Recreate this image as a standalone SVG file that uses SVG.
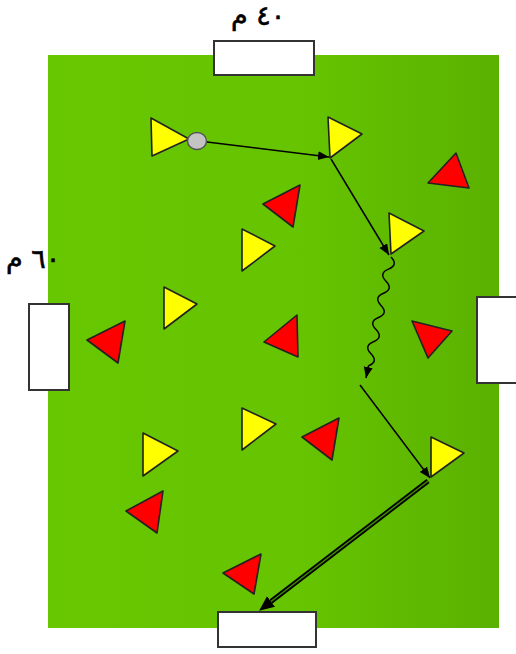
<svg xmlns="http://www.w3.org/2000/svg" width="516" height="654" viewBox="0 0 516 654">
<defs>
<linearGradient id="grass" x1="0" y1="0" x2="1" y2="0">
<stop offset="0" stop-color="#67c700"/>
<stop offset="0.55" stop-color="#66c400"/>
<stop offset="1" stop-color="#5ab100"/>
</linearGradient>
<marker id="arr" markerUnits="userSpaceOnUse" markerWidth="12" markerHeight="10" refX="11" refY="4.5" orient="auto">
<path d="M0,0 L11,4.5 L0,9 z" fill="#000"/>
</marker>
<marker id="arrBig" markerUnits="userSpaceOnUse" markerWidth="16" markerHeight="14" refX="0" refY="6.5" orient="auto">
<path d="M0,0 L15,6.5 L0,13 z" fill="#000"/>
</marker>
</defs>
<style>
.goal{fill:#fff;stroke:#333;stroke-width:2}
.y{fill:#ffff00;stroke:#222;stroke-width:1.6;stroke-linejoin:round}
.r{fill:#ff0000;stroke:#222;stroke-width:1.6;stroke-linejoin:round}
.ln{fill:none;stroke:#000;stroke-width:1.5}
.lbl{font-family:"DejaVu Sans",sans-serif;font-size:27px;fill:#000;stroke:#000;stroke-width:0.6}
</style>
<rect x="0" y="0" width="516" height="654" fill="#fff"/>
<g id="field"><rect x="48" y="55" width="451" height="573" fill="url(#grass)"/></g>
<g id="goal-top"><rect class="goal" x="214" y="41" width="100" height="34"/></g>
<g id="goal-left"><rect class="goal" x="29" y="304" width="40" height="86"/></g>
<g id="goal-right"><rect class="goal" x="477" y="297" width="45" height="86"/></g>
<g id="goal-bottom"><rect class="goal" x="218" y="612" width="98" height="35"/></g>
<g id="label-40"><text class="lbl" x="231" y="25">٤٠ م</text></g>
<g id="label-60"><text class="lbl" x="6" y="268">٦٠ م</text></g>
<g id="y1"><polygon class="y" points="151,118 152,156 189,139"/></g>
<g id="y2"><polygon class="y" points="328,117 330,158 362,134"/></g>
<g id="y3"><polygon class="y" points="389,213 391,254 424,231"/></g>
<g id="y4"><polygon class="y" points="242,229 242,271 275,246"/></g>
<g id="y5"><polygon class="y" points="164,287 164,329 197,304"/></g>
<g id="y6"><polygon class="y" points="143,433 143,476 178,451"/></g>
<g id="y7"><polygon class="y" points="242,408 242,450 276,424"/></g>
<g id="y8"><polygon class="y" points="431,437 431,477 464,453"/></g>
<g id="r1"><polygon class="r" points="456,153 469,188 428,183"/></g>
<g id="r2"><polygon class="r" points="300,185 293,227 263,204"/></g>
<g id="r3"><polygon class="r" points="297,315 298,357 264,342"/></g>
<g id="r4"><polygon class="r" points="125,321 118,363 87,340"/></g>
<g id="r5"><polygon class="r" points="412,321 452,331 428,358"/></g>
<g id="r6"><polygon class="r" points="339,418 332,460 302,437"/></g>
<g id="r7"><polygon class="r" points="163,491 157,533 126,511"/></g>
<g id="r8"><polygon class="r" points="261,554 254,594 223,573"/></g>
<g id="ball"><ellipse cx="197" cy="141" rx="9.5" ry="8.5" fill="#c4c4c4" stroke="#555" stroke-width="1.5"/></g>
<g id="connectors">
<line class="ln" x1="207" y1="142" x2="329" y2="157" marker-end="url(#arr)"/>
<line class="ln" x1="331" y1="159" x2="389" y2="255" marker-end="url(#arr)"/>
<path class="ln" d="M391,257 Q398.6,264.9 388.5,269.1 T386,281.2 T383.5,293.3 T381,305.4 T378.5,317.5 T376,329.6 T373.5,341.7 T371,353.8 T368.5,365.9 L366,378" marker-end="url(#arr)"/>
<line class="ln" x1="360" y1="385" x2="430" y2="478" marker-end="url(#arr)"/>
<line x1="428" y1="481" x2="271" y2="601.5" stroke="#000" stroke-width="5"/>
<line x1="428" y1="481" x2="271" y2="601.5" stroke="#3f8a00" stroke-width="1.5" marker-end="url(#arrBig)"/>
</g>
</svg>
